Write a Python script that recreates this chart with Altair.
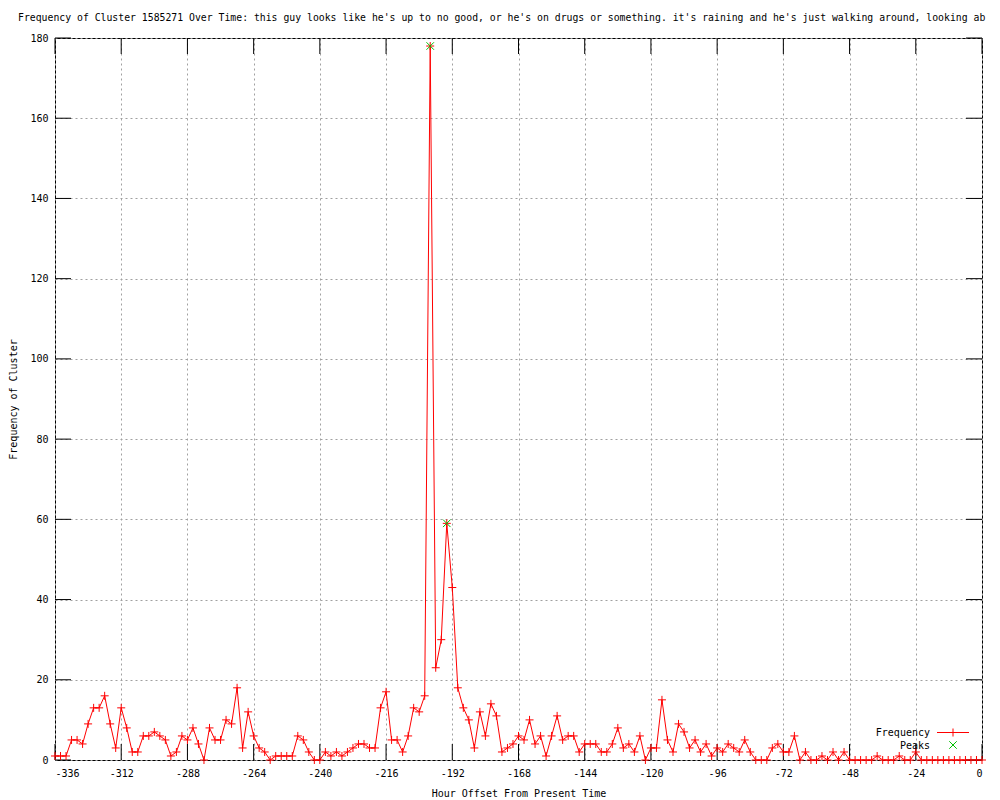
import altair as alt
import pandas as pd

# ---- data ----
hours = list(range(-336, 1, 2))
frequency = [
    # -336 .. -222
    1, 1, 1, 5, 5, 4, 9, 13, 13, 16, 9, 3, 13, 8, 2, 2, 6, 6, 7, 6,
    5, 1, 2, 6, 5, 8, 4, 0, 8, 5, 5, 10, 9, 18, 3, 12, 6, 3, 2, 0,
    1, 1, 1, 1, 6, 5, 2, 0, 0, 2, 1, 2, 1, 2, 3, 4, 4, 3,
    # -220 .. -120
    3, 13, 17, 5, 5, 2, 6, 13, 12, 16, 178, 23, 30, 59, 43, 18, 13, 10, 3, 12,
    6, 14, 11, 2, 3, 4, 6, 5, 10, 4, 6, 1, 6, 11, 5, 6, 6, 2, 4, 4,
    4, 2, 2, 4, 8, 3, 4, 2, 6, 0, 3,
    # -118 .. 0
    3, 15, 5, 2, 9, 7, 3, 5, 2, 4, 1, 3, 2, 4, 3, 2, 5, 2, 0, 0,
    0, 3, 4, 2, 2, 6, 0, 2, 0, 0, 1, 0, 2, 0, 2, 0, 0, 0, 0, 0,
    1, 0, 0, 0, 1, 0, 0, 2, 0, 0, 0, 0, 0, 0, 0, 0, 0, 0, 0, 0,
]
peak_hours = [-200, -194]
peak_values = [178, 59]
x_ticks = list(range(-336, 1, 24))
y_ticks = list(range(0, 181, 20))
title_text = ("Frequency of Cluster 1585271 Over Time: this guy looks like he's up to no good, "
              "or he's on drugs or something. it's raining and he's just walking around, looking ab")
x_title = "Hour Offset From Present Time"
y_title = "Frequency of Cluster"
legend_labels = ["Frequency", "Peaks"]

W, H = 927, 722
FONT = "DejaVu Sans Mono"
RED = "#ff0000"
GREEN = "#00c000"
PLUS = "M-1,0H1M0,-1V1"
XMARK = "M-1,-1L1,1M-1,1L1,-1"

df = pd.DataFrame({"hour": hours, "freq": frequency})
peaks = pd.DataFrame({"hour": peak_hours, "freq": peak_values})
xt = pd.DataFrame({"hour": x_ticks})
yt = pd.DataFrame({"freq": y_ticks})

xscale = alt.Scale(domain=[-336, 0], nice=False, zero=False)
yscale = alt.Scale(domain=[0, 180], nice=False)

axis_style = dict(
    grid=True, ticks=False, domain=False,
    labelFont=FONT, labelFontSize=10, labelColor="black",
    titleFont=FONT, titleFontSize=10, titleColor="black", titleFontWeight="normal",
    gridColor="#a0a0a0", gridDash=[2, 3], gridWidth=1, gridOpacity=1,
    labelExpr="'' + datum.value",
)

xaxis = alt.Axis(values=x_ticks, title=x_title, labelPadding=8, titleY=33,
                 titleBaseline="middle", **axis_style)
yaxis = alt.Axis(values=y_ticks, title=y_title, labelPadding=7, titleX=-42, titleY=H / 2,
                 titleBaseline="middle", titleAlign="center", titleAngle=270, **axis_style)

X = alt.X("hour:Q", scale=xscale, axis=xaxis)
Y = alt.Y("freq:Q", scale=yscale, axis=yaxis)

base = alt.Chart(df)

line = base.mark_line(color=RED, strokeWidth=1).encode(x=X, y=Y)

pts = base.mark_point(shape=PLUS, size=64, filled=False, color=RED, strokeWidth=1, opacity=1).encode(
    x=X, y=Y
)

peak_pts = alt.Chart(peaks).mark_point(shape=XMARK, size=56, filled=False, color=GREEN,
                                       strokeWidth=1, opacity=1).encode(x=X, y=Y)

xtick_b = alt.Chart(xt).mark_rule(color="black", strokeWidth=1).encode(
    x=X, y=alt.value(H), y2=alt.value(H - 16))
xtick_t = alt.Chart(xt).mark_rule(color="black", strokeWidth=1).encode(
    x=X, y=alt.value(0), y2=alt.value(16))
ytick_l = alt.Chart(yt).mark_rule(color="black", strokeWidth=1).encode(
    y=Y, x=alt.value(0), x2=alt.value(16))
ytick_r = alt.Chart(yt).mark_rule(color="black", strokeWidth=1).encode(
    y=Y, x=alt.value(W - 16), x2=alt.value(W))

title = alt.Chart(pd.DataFrame({"t": [title_text]})).mark_text(
    align="left", baseline="middle", font=FONT, fontSize=9.8, color="black"
).encode(text="t:N", x=alt.value(-37), y=alt.value(-20))

leg1 = pd.DataFrame({"t": [legend_labels[0]]})
leg2 = pd.DataFrame({"t": [legend_labels[1]]})
leg_text1 = alt.Chart(leg1).mark_text(align="right", baseline="middle", font=FONT, fontSize=10,
                                      color="black").encode(text="t:N", x=alt.value(875), y=alt.value(695))
leg_text2 = alt.Chart(leg2).mark_text(align="right", baseline="middle", font=FONT, fontSize=10,
                                      color="black").encode(text="t:N", x=alt.value(875), y=alt.value(708))
leg_line = alt.Chart(leg1).mark_rule(color=RED, strokeWidth=1).encode(
    x=alt.value(882), x2=alt.value(914), y=alt.value(694.5))
leg_plus = alt.Chart(leg1).mark_point(shape=PLUS, size=64, filled=False, color=RED, strokeWidth=1,
                                      opacity=1).encode(x=alt.value(898), y=alt.value(694.5))
leg_x = alt.Chart(leg2).mark_point(shape=XMARK, size=56, filled=False, color=GREEN, strokeWidth=1,
                                   opacity=1).encode(x=alt.value(898), y=alt.value(707))

chart = alt.layer(
    line, xtick_b, xtick_t, ytick_l, ytick_r, pts, peak_pts,
    title, leg_text1, leg_text2, leg_line, leg_plus, leg_x
).properties(
    width=W, height=H,
    background="white",
    autosize=alt.AutoSizeParams(type="none"),
    padding={"left": 47, "top": 30, "right": 10, "bottom": 40},
).configure_view(
    stroke="black", strokeWidth=1
)

chart.save("out.html", embed_options={"renderer": "svg", "actions": False})
